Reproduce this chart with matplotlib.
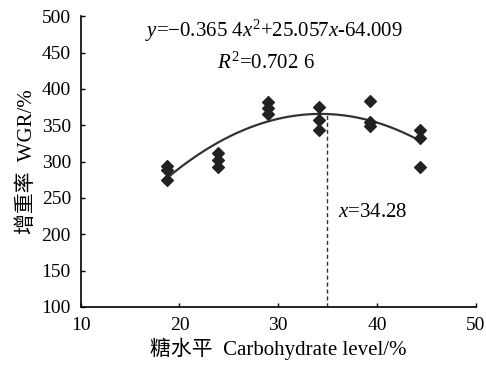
import numpy as np
import matplotlib.pyplot as plt

plt.rcParams['font.family'] = ['Liberation Serif', 'Noto Sans CJK SC']
plt.rcParams['mathtext.fontset'] = 'custom'
plt.rcParams['mathtext.rm'] = 'Liberation Serif'
plt.rcParams['mathtext.it'] = 'Liberation Serif:italic'

# carbohydrate levels (three replicates each) and weight gain rate
carb_level = [18.7, 18.7, 18.7, 23.9, 23.9, 23.9, 29.0, 29.0, 29.0,
              34.1, 34.1, 34.1, 39.3, 39.3, 39.3, 44.4, 44.4, 44.4]
wgr = [294, 288, 275, 312, 302, 292, 382, 374, 365,
       375, 357, 344, 383, 354, 349, 344, 333, 292]

# fitted quadratic y = a x^2 + b x + c
coef = [-0.3654, 25.057, -64.009]
vline_x = 34.9
xticks = [10, 20, 30, 40, 50]
yticks = [100, 150, 200, 250, 300, 350, 400, 450, 500]

fig = plt.figure(figsize=(4.86, 3.68), dpi=100)
ax = fig.add_axes([0.166, 0.166, 0.813, 0.790])

ax.scatter(carb_level, wgr, marker='D', s=36, color='#222222', zorder=3)

xs = np.linspace(min(carb_level), max(carb_level), 200)
ax.plot(xs, np.polyval(coef, xs), color='#333333', lw=1.6)

peak_y = np.polyval(coef, vline_x)
ax.plot([vline_x, vline_x], [100, peak_y], color='#333333', lw=1.0,
        linestyle=(0, (3, 2)))

ax.set_xlim(10, 50)
ax.set_ylim(100, 500)
ax.set_xticks(xticks)
ax.set_yticks(yticks)
ax.tick_params(direction='in', length=3, width=1, labelsize=14, pad=7)
for s in ['top', 'right']:
    ax.spines[s].set_visible(False)
for s in ['left', 'bottom']:
    ax.spines[s].set_linewidth(1.2)

ax.set_xlabel('糖水平  Carbohydrate level/%', fontsize=15, labelpad=3)
ax.set_ylabel('增重率  WGR/%', fontsize=15, labelpad=3)

ax.text(0.49, 0.95, r'$y$=−0.365 4$x^2$+25.057$x$-64.009', transform=ax.transAxes,
        ha='center', va='center', fontsize=15)
ax.text(0.345, 0.84, r'$R^2$=0.702 6', transform=ax.transAxes,
        ha='left', va='center', fontsize=15)
ax.text(36.1, 230, r'$x$=34.28', ha='left', va='center', fontsize=15)

fig.savefig('out.png', dpi=100)
